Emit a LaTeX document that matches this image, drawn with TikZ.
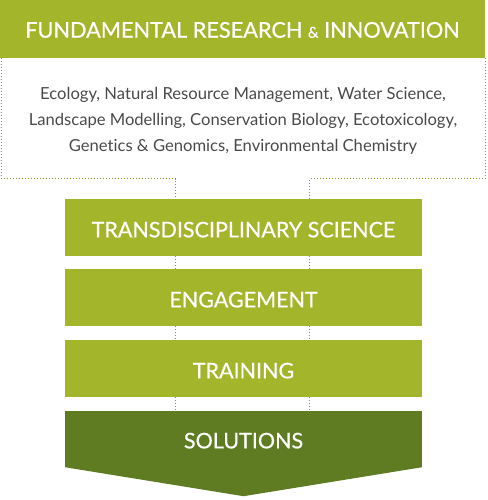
\documentclass[tikz,border=0pt]{standalone}
\usepackage{fontspec}
\setmainfont{Lato}[Ligatures=NoCommon]
\newfontfamily\capsfont[FakeBold=0.6]{Lato}
\usetikzlibrary{calc}
\definecolor{leafgreen}{HTML}{A3B52A}
\definecolor{mossgreen}{HTML}{5F7C23}
\definecolor{fieldgrey}{HTML}{4A4A4A}

\begin{document}
\begin{tikzpicture}[x=1pt,y=-1pt,
   banner/.style={fill=leafgreen,text=white,inner sep=0pt,minimum width=485pt,minimum height=58pt,
     text height=17.4pt,text depth=0pt,font=\capsfont\fontsize{21.7}{22}\selectfont},
   stage/.style={fill=leafgreen,text=white,inner sep=0pt,minimum width=357pt,minimum height=57pt,
     text height=19.7pt,text depth=0pt,font=\capsfont\fontsize{21.5}{22}\selectfont},
   dotline/.style={leafgreen!85!black,line width=1pt,dash pattern=on 1pt off 2pt}]
   \useasboundingbox (0,0) rectangle (487,500);
   \def\LEFT{-68}
   \def\RIGHT{66}
   % Header banner
   \node [banner] (fri) at (242.5,29) {FUNDAMENTAL RESEARCH {\fontsize{15}{15}\selectfont\&} INNOVATION};
   % Research fields
   \node [text=fieldgrey,align=center,font=\fontsize{16.6}{26}\selectfont] (fields) at (243,121)
      {Ecology, Natural Resource Management, Water Science,\\
       Landscape Modelling, Conservation Biology, Ecotoxicology,\\
       Genetics \& Genomics, Environmental Chemistry};
   % Stages
   \node [stage] (trans) at (243.5,227.5) {TRANSDISCIPLINARY SCIENCE};
   \node [stage] (engage) at (243.5,297.5) {ENGAGEMENT};
   \node [stage] (train) at (243.5,368.5) {TRAINING};
   \node [stage,fill=mossgreen,minimum height=56pt,text height=18.7pt] (solve) at (243.5,439) {SOLUTIONS};
   \fill [mossgreen] (solve.south west) -- (solve.south east) -- ($(solve.south)+(0,29)$) -- cycle;
   % Dotted frame
   \coordinate (lbend) at ($(trans.north)+(\LEFT,-20)$);
   \coordinate (rbend) at ($(trans.north)+(\RIGHT,-20)$);
   \draw [dotline] ($(fri.south west)+(1.5,0)$) |- (lbend) -- (lbend |- trans.north);
   \draw [dotline] (fri.south east) |- (rbend) -- (rbend |- trans.north);
   % Links between stages
   \foreach \upper/\lower in {trans/engage,engage/train,train/solve}
      \foreach \dx in {\LEFT,\RIGHT}
         \draw [dotline] ($(\upper.south)+(\dx,0)$) -- ($(\lower.north)+(\dx,0)$);
\end{tikzpicture}
\end{document}
